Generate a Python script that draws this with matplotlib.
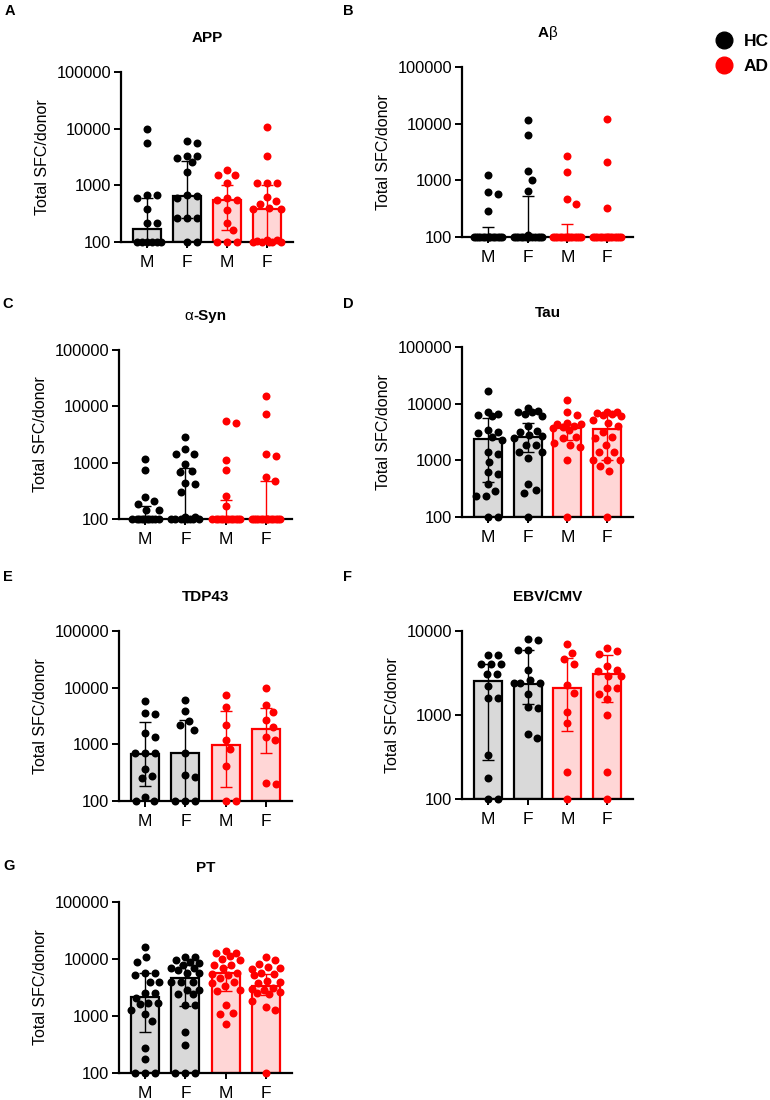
import numpy as np
import matplotlib
matplotlib.use('Agg')
import matplotlib.pyplot as plt
from matplotlib.lines import Line2D
from matplotlib.ticker import NullLocator

plt.rcParams['font.family'] = ['Liberation Sans', 'DejaVu Sans']

W, H = 770, 1100
groups = ['M', 'F', 'M', 'F']   # HC M, HC F, AD M, AD F

# ---- data (SFC per donor); order: HC M, HC F, AD M, AD F ----
app_points = [
    [10000, 5600, 670, 670, 600, 380, 220, 220, 100, 100, 100, 100, 100, 100],
    [6000, 5600, 3300, 3300, 3000, 2600, 1740, 680, 650, 600, 265, 260, 260, 100, 100],
    [1900, 1520, 1520, 1080, 600, 550, 550, 370, 220, 160, 100, 100, 100],
    [10500, 3300, 1080, 1080, 1080, 630, 520, 460, 400, 380, 380, 110, 110, 105, 100, 100, 100, 100, 100],
]
app_median = [168, 650, 550, 380]
app_low = [100, 260, 165, 100]
app_high = [590, 2700, 1000, 1000]

ab_points = [
    [1250, 610, 570, 290] + [100] * 14,
    [11500, 6300, 1470, 1010, 660, 110] + [100] * 13,
    [2700, 1390, 470, 385] + [100] * 14,
    [12000, 2130, 330] + [100] * 14,
]
ab_median = [100, 100, 100, 100]
ab_low = [100, 100, 100, 100]
ab_high = [148, 530, 170, 100]

syn_points = [
    [1170, 730, 250, 205, 187, 146, 146] + [100] * 10,
    [2900, 1770, 1440, 1440, 960, 700, 680, 435, 410, 300, 110, 110] + [100] * 8,
    [5400, 5000, 1130, 730, 260, 170] + [100] * 12,
    [15400, 7200, 1440, 1290, 555, 480] + [100] * 14,
]
syn_median = [100, 100, 100, 100]
syn_low = [100, 100, 100, 100]
syn_high = [172, 820, 214, 480]

tau_points = [
    [17000, 7000, 6700, 6300, 6000, 3400, 3200, 3000, 2600, 2300, 1420, 1300, 950, 630, 570, 380, 283, 235, 235, 100, 100],
    [8500, 7500, 7200, 7000, 6500, 6000, 4000, 3300, 3100, 2800, 2700, 2500, 1900, 1850, 1400, 1400, 1100, 385, 295, 265, 100],
    [11500, 7000, 6300, 4600, 4400, 4300, 4000, 3800, 3700, 3500, 2600, 2500, 2000, 1850, 1700, 1000, 100],
    [7200, 7000, 6800, 6500, 6300, 6000, 5100, 4500, 4000, 3200, 2600, 2500, 1850, 1400, 1400, 1000, 1000, 1000, 780, 640, 100],
]
tau_median = [2350, 2550, 3650, 3550]
tau_low = [420, 1420, 2300, 1000]
tau_high = [5500, 4500, 4300, 6300]

tdp_points = [
    [5800, 3600, 3500, 1580, 1350, 700, 700, 700, 370, 275, 250, 120, 100, 100],
    [6000, 3800, 2600, 2150, 1800, 700, 290, 265, 100, 100, 100],
    [7500, 4600, 2150, 1180, 820, 410, 100, 100],
    [10000, 4900, 3700, 2650, 2000, 1350, 1170, 210, 200],
]
tdp_median = [680, 700, 980, 1900]
tdp_low = [185, 100, 175, 700]
tdp_high = [2500, 2700, 3900, 4400]

ebv_points = [
    [5200, 5200, 4000, 4000, 4000, 3100, 3100, 2200, 1580, 1580, 330, 176, 100, 100],
    [8000, 7800, 6000, 6000, 3400, 2600, 2400, 2400, 2400, 1800, 1250, 1220, 600, 530],
    [7000, 5500, 4600, 4100, 2300, 1850, 1080, 800, 207, 100],
    [6300, 5800, 5300, 3800, 3400, 3300, 2900, 2900, 2070, 2070, 1780, 1540, 1000, 207, 100],
]
ebv_median = [2560, 2330, 2100, 3100]
ebv_low = [290, 1340, 650, 1410]
ebv_high = [4000, 6000, 4800, 5200]

pt_points = [
    [16000, 10700, 9000, 5600, 5600, 5200, 4000, 4000, 2500, 2500, 2100, 1700, 1700, 1600, 1300, 1100, 820, 275, 175, 100, 100, 100],
    [11000, 11000, 9500, 9000, 8500, 8000, 7000, 7000, 6500, 5600, 5600, 4000, 4000, 4000, 2900, 2900, 2400, 2400, 1550, 1550, 530, 310, 100, 100, 100],
    [14000, 13000, 12500, 11500, 10000, 9500, 7800, 7800, 7000, 5600, 5400, 5200, 4600, 4000, 3800, 3300, 2900, 2800, 1550, 1150, 1100, 730],
    [11000, 9500, 8200, 7200, 7000, 6800, 5600, 5500, 5300, 4100, 4000, 3800, 3100, 3000, 2900, 2600, 2500, 2400, 1800, 1450, 1270, 100],
]
pt_median = [2130, 4700, 5600, 3400]
pt_low = [530, 1500, 2700, 2300]
pt_high = [5600, 7800, 7300, 5500]

face = ['#d9d9d9', '#d9d9d9', '#ffd6d6', '#ffd6d6']
edge = ['black', 'black', '#ff0000', '#ff0000']

fig = plt.figure(figsize=(W / 100, H / 100), dpi=100)


def swarm(ax, vals, xc, diam=10, maxoff=0.36):
    # simple beeswarm in pixel space, spread limited to maxoff data units
    tr = ax.transData
    ppu = tr.transform((1, 1000))[0] - tr.transform((0, 1000))[0]
    lim = maxoff * ppu
    cand = [0.0]
    k = 1
    while k * 0.5 <= lim:
        cand += [k * 0.5, -k * 0.5]
        k += 1
    placed = []
    out = []
    for v in vals:
        y = tr.transform((xc, v))[1]
        best = None
        bestd, best2 = -1, 0.0
        for c in cand:
            if placed:
                d = min(np.hypot(c - px, y - py) for px, py in placed)
            else:
                d = np.inf
            if d >= diam:
                best = c
                break
            if d > bestd:
                bestd, best2 = d, c
        if best is None:
            best = best2
        placed.append((best, y))
        out.append(xc + best / ppu)
    return out


def title_segments(ax, segs, yfrac=1.2):
    # mixed bold / regular title, centred over the axes
    r = fig.canvas.get_renderer()
    texts = [ax.text(0, yfrac, s, transform=ax.transAxes, fontsize=11, fontweight=w,
                     ha='left', va='center') for s, w in segs]
    widths = [t.get_window_extent(r).width for t in texts]
    bb = ax.get_window_extent(r)
    x0 = bb.x0 + bb.width / 2 - sum(widths) / 2
    for t, w in zip(texts, widths):
        t.set_x((x0 - bb.x0) / bb.width)
        x0 += w


def panel(box, title, pts, med, lo, hi, ymax, letter, letter_xy):
    l, t, r, b = box
    ax = fig.add_axes([l / W, 1 - b / H, (r - l) / W, (b - t) / H])
    ax.set_yscale('log')
    ax.set_ylim(100, ymax)
    ax.set_xlim(-0.65, 3.65)
    x = np.arange(4)
    med = np.array(med, dtype=float)
    ax.bar(x, med - 100, bottom=100, width=0.7, color=face, edgecolor=edge,
           linewidth=1.6, zorder=2)
    for i in range(4):
        ax.errorbar(x[i], med[i], yerr=[[med[i] - lo[i]], [hi[i] - med[i]]], fmt='none',
                    ecolor=edge[i], elinewidth=1, capsize=4.5, capthick=1, zorder=3)
        xs = swarm(ax, pts[i], x[i])
        ax.scatter(xs, pts[i], s=33, color=edge[i], linewidths=0, zorder=4, clip_on=False)

    ticks = [10 ** k for k in range(2, int(round(np.log10(ymax))) + 1)]
    ax.set_yticks(ticks)
    ax.set_yticklabels([str(v) for v in ticks])
    ax.yaxis.set_minor_locator(NullLocator())
    ax.set_xticks(x)
    ax.set_xticklabels(groups)
    for s in ['top', 'right']:
        ax.spines[s].set_visible(False)
    for s in ['left', 'bottom']:
        ax.spines[s].set_linewidth(1.6)
    ax.tick_params(axis='y', length=5, width=1.4, labelsize=11.8, pad=2)
    ax.tick_params(axis='x', length=4, width=1.4, labelsize=12.5, pad=5.5)
    ax.set_ylabel('Total SFC/donor', fontsize=11.5, labelpad=5)
    if isinstance(title, str):
        title_segments(ax, [(title, 'bold')])
    else:
        title_segments(ax, title)
    fig.text(letter_xy[0] / W, 1 - letter_xy[1] / H, letter, fontsize=10.5,
             fontweight='bold', ha='center', va='center')
    return ax


panel((121, 72, 293, 242), 'APP', app_points, app_median, app_low, app_high, 1e5, 'A', (10, 11))
panel((462, 67, 633, 237), [('A', 'bold'), ('β', 'normal')], ab_points, ab_median, ab_low, ab_high,
      1e5, 'B', (348, 11))
panel((119, 350, 292, 519), [('α', 'normal'), ('-Syn', 'bold')], syn_points, syn_median, syn_low,
      syn_high, 1e5, 'C', (8, 304))
panel((462, 347, 633, 517), 'Tau', tau_points, tau_median, tau_low, tau_high, 1e5, 'D', (348, 304))
panel((119, 631, 292, 801), 'TDP43', tdp_points, tdp_median, tdp_low, tdp_high, 1e5, 'E', (8, 577))
panel((462, 631, 633, 799), 'EBV/CMV', ebv_points, ebv_median, ebv_low, ebv_high, 1e4, 'F', (348, 577))
panel((119, 902, 292, 1073), 'PT', pt_points, pt_median, pt_low, pt_high, 1e5, 'G', (9, 866))

handles = [Line2D([], [], marker='o', ls='', color='black', markersize=12),
           Line2D([], [], marker='o', ls='', color='#ff0000', markersize=12)]
fig.legend(handles, ['HC', 'AD'], loc='upper left', bbox_to_anchor=(714 / W, 1 - 34 / H),
           frameon=False, prop={'weight': 'bold', 'size': 12.5}, handletextpad=0.5,
           labelspacing=0.55, handlelength=1.2, borderaxespad=0, borderpad=0)

fig.savefig('out.png', dpi=100)
